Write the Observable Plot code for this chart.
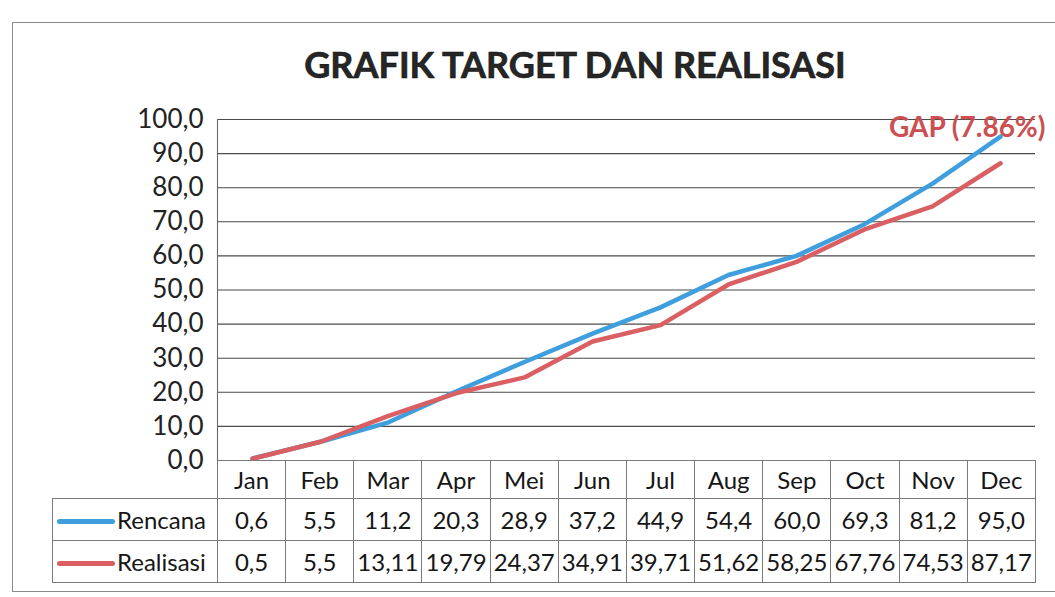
<!DOCTYPE html>
<html>
<head>
<meta charset="utf-8">
<script src="https://cdn.jsdelivr.net/npm/d3@7"></script>
<script src="https://cdn.jsdelivr.net/npm/@observablehq/plot@0.6"></script>
<style>
  html, body { margin: 0; padding: 0; background: #fff; }
  #wrap { position: relative; width: 1055px; height: 597px; overflow: hidden; font-family: Lato, "Open Sans", sans-serif; }
  #border { position: absolute; left: 12px; top: 22px; width: 1060px; height: 570px; border: 1.5px solid #8a8a8a; box-sizing: border-box; }
  #title { position: absolute; left: 575px; top: 42px; transform: translateX(-50%); white-space: nowrap;
           font-family: Lato, sans-serif; font-weight: 700; font-size: 36px; color: #262626;
           -webkit-text-stroke: 0.6px #111; }
  #chart { position: absolute; left: 0; top: 0; }
  #table { position: absolute; left: 52px; top: 460px; border-collapse: collapse; table-layout: fixed;
           font-family: Lato, sans-serif; font-size: 24px; color: #161616; }
  #table td { border: 1.2px solid #7a7a7a; text-align: center; padding: 0; white-space: nowrap; overflow: visible; }
  #table td.blank { border: none; border-right: 1.2px solid #7a7a7a; }
  #table td.lab { text-align: left; padding-left: 4px; }
  .sw { display: inline-block; width: 58px; height: 5px; border-radius: 3px; vertical-align: middle; margin-right: 2px; position: relative; top: -1px; }
</style>
</head>
<body>
<div id="wrap">
  <div id="border"></div>
  <div id="title"></div>
  <div id="chart"></div>
  <table id="table"></table>
</div>
<script>
// ---- data ----
const titleText = "GRAFIK TARGET DAN REALISASI";
const months = ["Jan", "Feb", "Mar", "Apr", "Mei", "Jun", "Jul", "Aug", "Sep", "Oct", "Nov", "Dec"];
const rencana = [0.6, 5.5, 11.2, 20.3, 28.9, 37.2, 44.9, 54.4, 60.0, 69.3, 81.2, 95.0];
const realisasi = [0.5, 5.5, 13.11, 19.79, 24.37, 34.91, 39.71, 51.62, 58.25, 67.76, 74.53, 87.17];
const rencanaLabels = ["0,6", "5,5", "11,2", "20,3", "28,9", "37,2", "44,9", "54,4", "60,0", "69,3", "81,2", "95,0"];
const realisasiLabels = ["0,5", "5,5", "13,11", "19,79", "24,37", "34,91", "39,71", "51,62", "58,25", "67,76", "74,53", "87,17"];
const seriesNames = ["Rencana", "Realisasi"];
const seriesColors = ["#3f9edd", "#d95f63"];
const yTicks = [0, 10, 20, 30, 40, 50, 60, 70, 80, 90, 100];
const gapLabel = "GAP (7.86%)";

// ---- build ----
document.getElementById("title").textContent = titleText;

const rows = [
  ...months.map((m, i) => ({month: m, value: rencana[i], series: seriesNames[0]})),
  ...months.map((m, i) => ({month: m, value: realisasi[i], series: seriesNames[1]}))
];

const chart = Plot.plot({
  width: 1055,
  height: 597,
  marginLeft: 217,
  marginRight: 20,
  marginTop: 119,
  marginBottom: 137,
  style: {background: "transparent", fontFamily: "Lato, sans-serif", overflow: "visible"},
  x: {type: "point", domain: months, padding: 0.5, axis: null},
  y: {domain: [0, 100], axis: null},
  color: {domain: seriesNames, range: seriesColors},
  marks: [
    Plot.gridY(yTicks, {stroke: "#4a4a4a", strokeOpacity: 1, strokeWidth: 1.1}),
    Plot.frame({anchor: "left", stroke: "#6a6a6a", strokeWidth: 1.1}),
    Plot.axisY(yTicks, {
      tickSize: 0, tickPadding: 14, fontSize: 26, fill: "#222",
      tickFormat: d => d.toFixed(1).replace(".", ","), label: null
    }),
    Plot.line(rows, {x: "month", y: "value", z: "series", stroke: "series",
      strokeWidth: 4.5, strokeLinecap: "round", strokeLinejoin: "round"}),
    Plot.text([gapLabel], {frameAnchor: "top-right", text: d => d, textAnchor: "end",
      lineAnchor: "middle", dx: 10, dy: 9, fontSize: 28, fontWeight: 700, fill: "#cc5052"})
  ]
});
document.getElementById("chart").appendChild(chart);

// ---- data table below the plot ----
const colW = (1035 - 217) / months.length;
const table = document.getElementById("table");
const cg = document.createElement("colgroup");
const c0 = document.createElement("col"); c0.style.width = (217 - 52) + "px"; cg.appendChild(c0);
months.forEach(() => { const c = document.createElement("col"); c.style.width = colW + "px"; cg.appendChild(c); });
table.appendChild(cg);
table.style.width = (1035 - 52) + "px";

const hdr = document.createElement("tr"); hdr.style.height = "38px";
const blank = document.createElement("td"); blank.className = "blank"; hdr.appendChild(blank);
months.forEach(m => { const td = document.createElement("td"); td.textContent = m; hdr.appendChild(td); });
table.appendChild(hdr);

[[seriesNames[0], rencanaLabels, seriesColors[0]], [seriesNames[1], realisasiLabels, seriesColors[1]]].forEach(([name, labels, color]) => {
  const tr = document.createElement("tr"); tr.style.height = "42px";
  const lab = document.createElement("td"); lab.className = "lab";
  const sw = document.createElement("span"); sw.className = "sw"; sw.style.background = color;
  lab.appendChild(sw); lab.appendChild(document.createTextNode(name));
  tr.appendChild(lab);
  labels.forEach(v => { const td = document.createElement("td"); td.textContent = v; tr.appendChild(td); });
  table.appendChild(tr);
});
</script>
</body>
</html>
